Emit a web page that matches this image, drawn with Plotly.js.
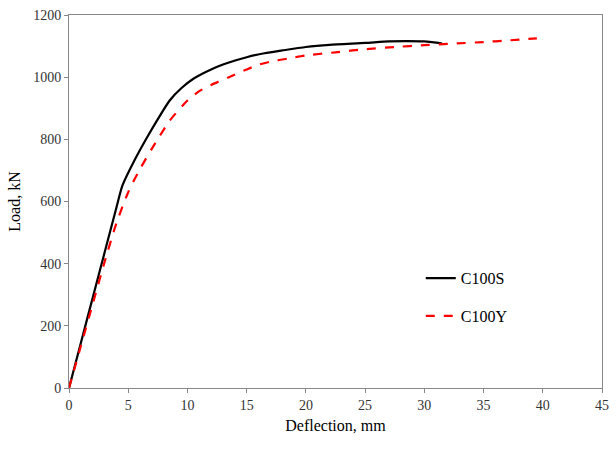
<!DOCTYPE html>
<html>
<head>
<script src="https://cdn.plot.ly/plotly-3.0.1.min.js"></script>
<style>body{margin:0}</style>
</head>
<body>
<div id="chart" style="width:616px;height:449px"></div>
<script>
// C100S curve
var sX = [0, 1, 2, 3, 4, 4.5, 5.5, 6.5, 7.5, 8.5, 9.5, 10.5, 12, 13.5, 15, 16.5, 18, 20, 22, 25, 27, 28.5, 30, 31, 31.5]
var sY = [0, 145, 290, 435, 580, 650, 730, 800, 865, 925, 965, 995, 1025, 1047, 1064, 1077, 1086, 1097, 1104, 1110, 1115, 1116, 1115, 1111, 1108]
// C100Y curve
var yX = [0, 1, 2, 3, 4, 5, 6, 7, 8.5, 10, 11, 12, 13.5, 15, 16, 17, 18.5, 20, 22.5, 25, 27.5, 30, 32.5, 35, 37, 39.5]
var yY = [0, 135, 270, 405, 530, 630, 705, 770, 860, 925, 955, 975, 1000, 1025, 1040, 1050, 1060, 1070, 1080, 1090, 1097, 1103, 1108, 1113, 1118, 1125]

var data = [
    {x: sX, y: sY, name: 'C100S', legendgroup: 'a', mode: 'lines', line: {color: 'black', width: 2.2, shape: 'spline', smoothing: 0.6}},
    {x: yX, y: yY, name: 'C100Y', legendgroup: 'b', mode: 'lines', line: {color: '#ff0000', width: 2.2, dash: 'dash', shape: 'spline', smoothing: 0.6}}
]

var axisStyle = {
    showgrid: false,
    showline: true,
    mirror: true,
    linecolor: '#888',
    linewidth: 1,
    ticks: 'outside',
    ticklen: 4,
    tickcolor: '#888',
    zeroline: false,
    tickfont: {size: 14, color: '#333'}
}

var layout = {
    width: 616, height: 449,
    margin: {l: 69, r: 14, t: 15, b: 61},
    font: {family: 'Liberation Serif, Times New Roman, serif', color: 'black'},
    paper_bgcolor: 'white',
    plot_bgcolor: 'white',
    showlegend: true,
    legend: {x: 0.66, y: 0.34, xanchor: 'left', yanchor: 'top', font: {size: 16}, bgcolor: 'rgba(0,0,0,0)', tracegroupgap: 14},
    xaxis: Object.assign({}, axisStyle, {range: [0, 45], dtick: 5, title: {text: 'Deflection, mm', font: {size: 16}, standoff: 8}}),
    yaxis: Object.assign({}, axisStyle, {range: [0, 1200], dtick: 200, title: {text: 'Load, kN', font: {size: 16}, standoff: 8}})
}

Plotly.newPlot('chart', data, layout, {displayModeBar: false, staticPlot: true})
</script>
</body>
</html>
